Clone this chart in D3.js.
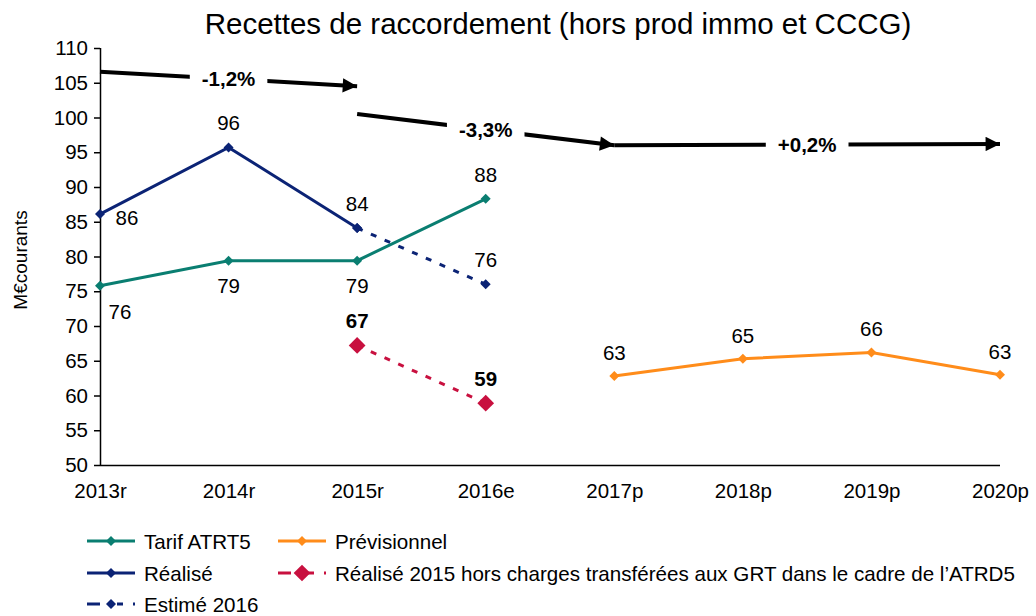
<!DOCTYPE html>
<html>
<head>
<meta charset="utf-8">
<script src="https://cdn.jsdelivr.net/npm/d3@7"></script>
<style>
  html, body { margin: 0; padding: 0; background: #fff; }
  svg { display: block; font-family: "Liberation Sans", Arial, sans-serif; }
</style>
</head>
<body>
<svg id="chart" width="1036" height="616"></svg>
<script>
// ---- Data ----
const categories = ["2013r", "2014r", "2015r", "2016e", "2017p", "2018p", "2019p", "2020p"];
const yTicks = [50, 55, 60, 65, 70, 75, 80, 85, 90, 95, 100, 105, 110];

const tarifATRT5   = [75.8, 79.4, 79.4, 88.3, null, null, null, null];
const realise      = [86.1, 95.7, 84.1, null, null, null, null, null];
const estime2016   = [null, null, 84.1, 76.0, null, null, null, null];
const realiseHors  = [null, null, 67.2, 58.9, null, null, null, null];
const previsionnel = [null, null, null, null, 62.8, 65.3, 66.2, 63.0];

const seriesNames = ["Tarif ATRT5", "Prévisionnel", "Réalisé",
  "Réalisé 2015 hors charges transférées aux GRT dans le cadre de l’ATRD5", "Estimé 2016"];

// Trend annotations
const trendFrom   = ["2013r", "2015r", "2017p"];
const trendTo     = ["2015r", "2017p", "2020p"];
const trendStartV = [106.6, 100.5, 96.0];
const trendEndV   = [104.5, 96.0, 96.2];
const trendLabels = ["-1,2%", "-3,3%", "+0,2%"];

const title = "Recettes de raccordement (hors prod immo et CCCG)";
const yTitle = "M€courants";

// ---- Drawing ----
const svg = d3.select("#chart");
const x = d3.scalePoint().domain(categories).range([100, 1000]);
const y = d3.scaleLinear().domain([50, 110]).range([465, 48]);

const C = {
  teal: "#0a7e71",
  navy: "#0b2375",
  orange: "#ff8c1a",
  red: "#c8103f"
};
const FONT = "Liberation Sans, Arial, sans-serif";

// title
svg.append("text").attr("x", 558).attr("y", 34).attr("text-anchor", "middle")
  .attr("font-size", 29.5).text(title);

// y axis title
svg.append("text").attr("transform", "translate(27,260) rotate(-90)")
  .attr("text-anchor", "middle").attr("font-size", 19).text(yTitle);

// axes
const yAxis = svg.append("g").attr("transform", "translate(100,0)")
  .call(d3.axisLeft(y).tickValues(yTicks).tickSize(6).tickPadding(6));
yAxis.selectAll("path,line").attr("stroke", "#000").attr("stroke-width", 1.5);
yAxis.select(".domain").attr("d", `M0.5,${y(110)}V${y(50)}`);
yAxis.selectAll("text").attr("font-size", 20.5).attr("font-family", FONT).attr("fill", "#000");

const xAxis = svg.append("g").attr("transform", `translate(0,${y(50)})`)
  .call(d3.axisBottom(x).tickSize(0).tickPadding(18));
xAxis.select(".domain").attr("stroke", "#000").attr("stroke-width", 1.5)
  .attr("d", `M100,0.5H1000`);
xAxis.selectAll("text").attr("font-size", 20.5).attr("font-family", FONT).attr("fill", "#000")
  .attr("dy", "0.71em");

function pts(vals) {
  return categories.map((c, i) => ({ c, v: vals[i] })).filter(d => d.v != null);
}
const line = d3.line().x(d => x(d.c)).y(d => y(d.v));

function drawSeries(vals, color, dashed, markerSize) {
  const p = pts(vals);
  svg.append("path").datum(p).attr("d", line).attr("fill", "none")
    .attr("stroke", color).attr("stroke-width", 3)
    .attr("stroke-dasharray", dashed ? "6,9" : null);
  svg.selectAll(null).data(p).enter().append("path")
    .attr("transform", d => `translate(${x(d.c)},${y(d.v)}) rotate(45)`)
    .attr("d", d3.symbol().type(d3.symbolSquare).size(markerSize))
    .attr("fill", color);
  return p;
}

drawSeries(tarifATRT5, C.teal, false, 50);
drawSeries(previsionnel, C.orange, false, 50);
drawSeries(estime2016, C.navy, true, 50);
drawSeries(realise, C.navy, false, 50);
drawSeries(realiseHors, C.red, true, 140);

// data labels
function labels(vals, idxs, dx, dy, bold) {
  idxs.forEach(i => {
    svg.append("text").attr("x", x(categories[i]) + dx).attr("y", y(vals[i]) + dy)
      .attr("text-anchor", "middle").attr("font-size", 20.5)
      .attr("font-weight", bold ? "bold" : null)
      .text(Math.round(vals[i]));
  });
}
labels(realise, [0], 27, 11);
labels(realise, [1, 2], 0, -17);
labels(tarifATRT5, [0], 20, 33);
labels(tarifATRT5, [1, 2], 0, 32);
labels(tarifATRT5, [3], 0, -17);
labels(estime2016, [3], 0, -17);
labels(realiseHors, [2, 3], 0, -17, true);
labels(previsionnel, [4, 5, 6, 7], 0, -16);

// trend arrows
svg.append("defs").append("marker").attr("id", "ah")
  .attr("viewBox", "0 0 10 10").attr("refX", 10).attr("refY", 5)
  .attr("markerWidth", 4.5).attr("markerHeight", 3.6).attr("markerUnits", "strokeWidth")
  .attr("orient", "auto")
  .append("path").attr("d", "M0,0L10,5L0,10Z").attr("fill", "#000");

trendLabels.forEach((lab, i) => {
  const x1 = x(trendFrom[i]), y1 = y(trendStartV[i]);
  const x2 = x(trendTo[i]), y2 = y(trendEndV[i]);
  svg.append("line").attr("x1", x1).attr("y1", y1).attr("x2", x2).attr("y2", y2)
    .attr("stroke", "#000").attr("stroke-width", 4).attr("marker-end", "url(#ah)");
  const mx = (x1 + x2) / 2, my = (y1 + y2) / 2;
  const t = svg.append("text").attr("x", mx).attr("y", my + 7)
    .attr("text-anchor", "middle").attr("font-size", 20.5).attr("font-weight", "bold").text(lab);
  const bb = t.node().getBBox();
  svg.insert("rect", () => t.node()).attr("x", bb.x - 12).attr("y", bb.y - 2)
    .attr("width", bb.width + 24).attr("height", bb.height + 4).attr("fill", "#fff");
});

// legend
const legendStyle = [
  { color: C.teal, dashed: false, ms: 50, col: 0, row: 0 },
  { color: C.orange, dashed: false, ms: 50, col: 1, row: 0 },
  { color: C.navy, dashed: false, ms: 50, col: 0, row: 1 },
  { color: C.red, dashed: true, ms: 140, col: 1, row: 1 },
  { color: C.navy, dashed: true, ms: 50, col: 0, row: 2 }
];
const colX = [87, 278], rowY = [541, 573, 604];
seriesNames.forEach((name, i) => {
  const s = legendStyle[i];
  const lx = colX[s.col], ly = rowY[s.row];
  svg.append("line").attr("x1", lx).attr("x2", lx + 48).attr("y1", ly).attr("y2", ly)
    .attr("stroke", s.color).attr("stroke-width", 3)
    .attr("stroke-dasharray", s.dashed ? "13,17,6,10,2,100" : null);
  svg.append("path").attr("transform", `translate(${lx + 24},${ly}) rotate(45)`)
    .attr("d", d3.symbol().type(d3.symbolSquare).size(s.ms)).attr("fill", s.color);
  svg.append("text").attr("x", lx + 57).attr("y", ly + 7.5).attr("font-size", 20.6).text(name);
});
</script>
</body>
</html>
